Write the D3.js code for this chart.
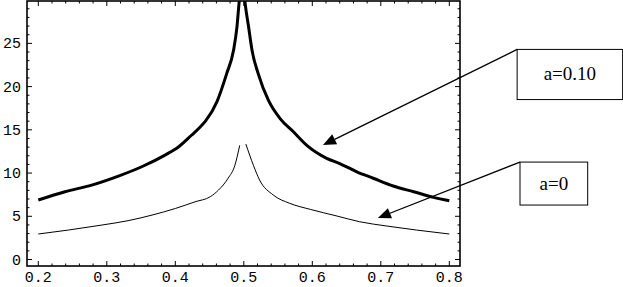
<!DOCTYPE html>
<html><head><meta charset="utf-8">
<script src="https://cdn.jsdelivr.net/npm/d3@7"></script>
<style>body{margin:0;background:#fff}svg{display:block}</style>
</head><body>
<svg id="c" width="623" height="287"></svg>
<script>
// a=0.10 curve (thick), two branches around x=0.5
const thickLeftX  = [0.2, 0.239, 0.278, 0.317, 0.351, 0.385, 0.405, 0.424, 0.436, 0.444, 0.461, 0.475, 0.485, 0.490, 0.493, 0.496];
const thickLeftY  = [6.88, 7.84, 8.61, 9.65, 10.73, 12.08, 13.04, 14.4, 15.3, 16.0, 18.3, 21.5, 24.2, 26.9, 29.6, 32];
const thickRightX = [0.499, 0.502, 0.507, 0.512, 0.521, 0.536, 0.553, 0.572, 0.592, 0.621, 0.640, 0.665, 0.689, 0.718, 0.748, 0.777, 0.8];
const thickRightY = [32, 29.6, 26.9, 24.2, 21.5, 18.4, 16.3, 14.8, 13.2, 11.7, 11.1, 10.15, 9.4, 8.5, 7.84, 7.19, 6.8];
// a=0 curve (thin)
const thinLeftX  = [0.2, 0.244, 0.293, 0.331, 0.366, 0.4, 0.429, 0.451, 0.463, 0.477, 0.487, 0.494];
const thinLeftY  = [2.95, 3.41, 3.99, 4.49, 5.14, 5.9, 6.68, 7.26, 8.03, 9.39, 10.9, 13.2];
const thinRightX = [0.503, 0.514, 0.523, 0.543, 0.567, 0.597, 0.636, 0.669, 0.709, 0.752, 0.8];
const thinRightY = [13.35, 10.9, 9.2, 7.46, 6.5, 5.8, 5.03, 4.37, 3.87, 3.41, 2.95];

const xTicks = [0.2, 0.3, 0.4, 0.5, 0.6, 0.7, 0.8];
const yTicks = [0, 5, 10, 15, 20, 25];
const xTickLabels = ["0.2", "0.3", "0.4", "0.5", "0.6", "0.7", "0.8"];
const yTickLabels = ["0", "5", "10", "15", "20", "25"];

// annotations (data units): label, box corners, arrow tip
const labels    = ["a=0.10", "a=0"];
const boxX0     = [0.899, 0.9032];
const boxX1     = [1.053, 1.002];
const boxY0     = [24.3, 11.27];
const boxY1     = [18.5, 6.3];
const arrowTipX = [0.6156, 0.6957];
const arrowTipY = [13.24, 4.8];

const svg = d3.select("#c");
const L = 27, R = 460, T = 1, B = 266;
const x = d3.scaleLinear().domain([0.1835, 0.8156]).range([L, R]);
const y = d3.scaleLinear().domain([-0.75, 29.9]).range([B, T]);

svg.append("defs").append("clipPath").attr("id","clip")
  .append("rect").attr("x", L).attr("y", T).attr("width", R-L).attr("height", B-T);

const line = d3.line().x(d=>x(d[0])).y(d=>y(d[1])).curve(d3.curveMonotoneX);
const g = svg.append("g").attr("clip-path","url(#clip)");
function branch(xs, ys, w){
  g.append("path").attr("d", line(xs.map((v,i)=>[v, ys[i]])))
   .attr("fill","none").attr("stroke","#000").attr("stroke-width", w)
   .attr("stroke-linejoin","round").attr("stroke-linecap","butt");
}
branch(thickLeftX, thickLeftY, 3);
branch(thickRightX, thickRightY, 3);
branch(thinLeftX, thinLeftY, 1);
branch(thinRightX, thinRightY, 1);

// frame
svg.append("rect").attr("x", L).attr("y", T).attr("width", R-L).attr("height", B-T)
  .attr("fill","none").attr("stroke","#000").attr("stroke-width", 1.6);

// ticks (inward on all sides)
const xMinor = d3.range(0.2, 0.8001, 0.02);
const yMinor = d3.range(0, 29.5, 1);
const tg = svg.append("g").attr("stroke","#000").attr("stroke-width",1);
xMinor.forEach(v=>{
  const major = xTicks.some(t=>Math.abs(t-v)<1e-6);
  const len = major ? 5 : 2.5;
  tg.append("line").attr("x1",x(v)).attr("x2",x(v)).attr("y1",B).attr("y2",B-len);
  tg.append("line").attr("x1",x(v)).attr("x2",x(v)).attr("y1",T).attr("y2",T+len);
});
yMinor.forEach(v=>{
  const major = yTicks.includes(v);
  const len = major ? 5 : 2.5;
  tg.append("line").attr("x1",L).attr("x2",L+len).attr("y1",y(v)).attr("y2",y(v));
  tg.append("line").attr("x1",R).attr("x2",R-len).attr("y1",y(v)).attr("y2",y(v));
});

// tick labels
const mono = "'Liberation Mono', 'DejaVu Sans Mono', monospace";
xTicks.forEach((v,i)=>{
  svg.append("text").attr("x", x(v)).attr("y", 282).attr("text-anchor","middle")
    .attr("font-family", mono).attr("font-size", 15).text(xTickLabels[i]);
});
yTicks.forEach((v,i)=>{
  svg.append("text").attr("x", 21).attr("y", y(v)+5).attr("text-anchor","end")
    .attr("font-family", mono).attr("font-size", 15).text(yTickLabels[i]);
});

// annotations
labels.forEach((lab,i)=>{
  const bx0 = x(boxX0[i]), bx1 = x(boxX1[i]), by0 = y(boxY0[i]), by1 = y(boxY1[i]);
  svg.append("rect").attr("x", bx0).attr("y", by0).attr("width", bx1-bx0).attr("height", by1-by0)
    .attr("fill","#fff").attr("stroke","#000").attr("stroke-width",1);
  svg.append("text").attr("x",(bx0+bx1)/2).attr("y",(by0+by1)/2+6).attr("text-anchor","middle")
    .attr("font-family","'Liberation Serif', 'Times New Roman', serif").attr("font-size",19).text(lab);
  const tx = x(arrowTipX[i]), ty = y(arrowTipY[i]);
  const ang = Math.atan2(ty-by0, tx-bx0);
  const hl = 13, hw = 5.5;
  const bxp = tx - hl*Math.cos(ang), byp = ty - hl*Math.sin(ang);
  svg.append("line").attr("x1",bx0).attr("y1",by0).attr("x2",bxp).attr("y2",byp)
    .attr("stroke","#000").attr("stroke-width",1.3);
  const px = -Math.sin(ang), py = Math.cos(ang);
  svg.append("path").attr("d",`M${tx},${ty}L${bxp+hw*px},${byp+hw*py}L${bxp-hw*px},${byp-hw*py}Z`)
    .attr("fill","#000");
});
</script>
</body></html>
